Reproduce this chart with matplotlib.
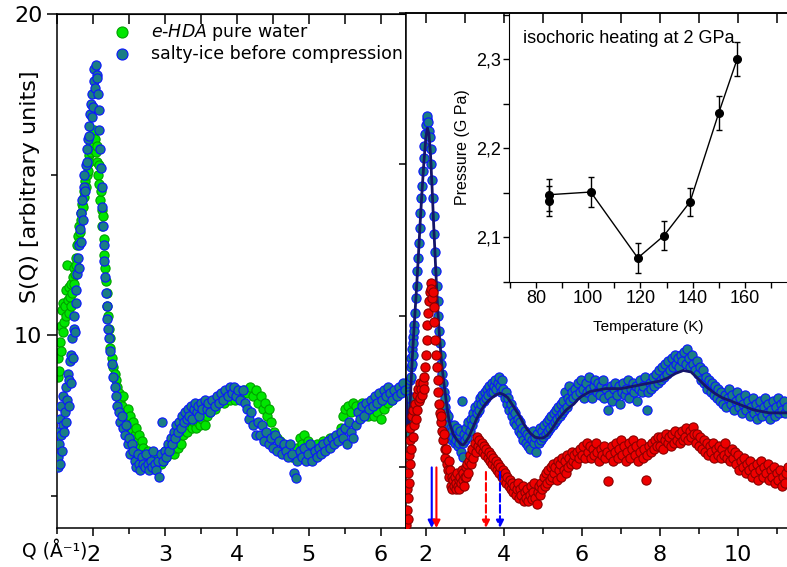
import numpy as np
import matplotlib.pyplot as plt
from matplotlib.ticker import MultipleLocator, NullFormatter, FuncFormatter

plt.rcParams['font.family'] = ['DejaVu Sans']

# ---- S(Q) data (left panel) ----
hda_water = [
    (1.51, 8.7), (1.52, 9.3), (1.53, 8.9), (1.54, 9.8), (1.55, 10.3), (1.56, 9.5), (1.57, 10.8), (1.58, 10.1), (1.59, 11.0), (1.60, 10.4),
    (1.61, 10.9), (1.62, 11.4), (1.63, 10.6), (1.64, 12.2), (1.65, 11.1), (1.66, 10.7), (1.67, 11.5), (1.68, 11.2), (1.69, 10.9), (1.70, 11.6),
    (1.71, 11.3), (1.72, 11.8), (1.73, 11.6), (1.74, 12.1), (1.75, 11.9), (1.76, 12.4), (1.77, 12.2), (1.78, 12.8), (1.79, 13.1), (1.80, 12.9),
    (1.81, 13.4), (1.82, 13.2), (1.83, 13.8), (1.84, 13.6), (1.85, 14.1), (1.86, 14.0), (1.87, 14.5), (1.88, 14.3), (1.89, 14.8), (1.90, 14.6),
    (1.91, 15.0), (1.92, 15.3), (1.93, 15.1), (1.94, 15.6), (1.95, 15.4), (1.96, 15.9), (1.97, 15.7), (1.98, 16.1), (1.99, 15.8), (2.00, 16.3),
    (2.01, 16.0), (2.02, 16.4), (2.03, 16.1), (2.04, 15.7), (2.05, 15.9), (2.06, 15.4), (2.07, 15.0), (2.08, 15.3), (2.09, 14.7), (2.10, 14.2),
    (2.11, 14.5), (2.12, 13.9), (2.13, 13.4), (2.14, 13.7), (2.15, 13.0), (2.16, 12.5), (2.17, 12.1), (2.18, 11.7), (2.19, 11.3), (2.20, 10.9),
    (2.21, 10.6), (2.22, 10.2), (2.23, 9.9), (2.24, 9.6), (2.26, 9.3), (2.28, 9.0), (2.30, 8.8), (2.32, 8.6), (2.34, 8.4), (2.36, 8.2),
    (2.38, 8.0), (2.40, 7.8), (2.42, 8.1), (2.44, 7.6), (2.46, 7.4), (2.48, 7.7), (2.50, 7.2), (2.52, 7.5), (2.54, 7.0), (2.56, 7.3),
    (2.58, 6.9), (2.60, 7.1), (2.62, 6.7), (2.64, 6.9), (2.66, 6.5), (2.68, 6.7), (2.70, 6.5), (2.72, 6.3), (2.74, 6.2), (2.76, 6.4),
    (2.78, 6.1), (2.80, 6.0), (2.82, 6.2), (2.84, 5.9), (2.86, 6.1), (2.88, 5.9), (2.90, 6.0), (2.92, 6.2), (2.94, 6.0), (2.96, 6.3),
    (2.98, 6.1), (3.00, 6.4), (3.02, 6.2), (3.04, 6.5), (3.06, 6.3), (3.08, 6.4), (3.10, 6.6), (3.12, 6.3), (3.14, 6.5), (3.16, 6.7),
    (3.18, 6.5), (3.20, 6.8), (3.22, 6.6), (3.25, 6.9), (3.28, 7.1), (3.31, 7.0), (3.34, 7.2), (3.37, 7.1), (3.40, 7.3), (3.43, 7.1),
    (3.46, 7.3), (3.49, 7.2), (3.52, 7.4), (3.55, 7.2), (3.58, 7.5), (3.62, 7.6), (3.66, 7.8), (3.70, 7.7), (3.74, 7.9), (3.78, 8.0),
    (3.82, 7.9), (3.86, 8.1), (3.90, 8.0), (3.94, 8.2), (3.98, 8.0), (4.02, 8.2), (4.06, 8.1), (4.10, 8.3), (4.14, 8.2), (4.18, 8.4),
    (4.22, 8.1), (4.26, 8.3), (4.30, 7.9), (4.33, 8.1), (4.36, 7.7), (4.39, 7.9), (4.42, 7.5), (4.45, 7.7), (4.48, 7.3), (4.52, 7.0),
    (4.56, 6.8), (4.60, 6.7), (4.64, 6.5), (4.68, 6.4), (4.72, 6.3), (4.76, 6.2), (4.80, 6.3), (4.84, 6.5), (4.87, 6.8), (4.90, 6.6),
    (4.93, 6.9), (4.96, 6.4), (4.99, 6.7), (5.02, 6.5), (5.05, 6.3), (5.08, 6.4), (5.12, 6.6), (5.16, 6.5), (5.20, 6.7), (5.25, 6.6),
    (5.30, 6.8), (5.35, 6.7), (5.40, 6.9), (5.44, 7.1), (5.47, 7.5), (5.50, 7.7), (5.54, 7.8), (5.58, 7.6), (5.62, 7.9), (5.66, 7.8),
    (5.70, 7.6), (5.74, 7.9), (5.78, 7.7), (5.82, 7.5), (5.86, 7.6), (5.90, 7.5), (5.95, 7.6), (6.00, 7.4), (6.05, 7.7), (6.10, 7.9),
    (6.15, 8.0), (6.20, 8.1), (6.25, 8.2), (6.30, 8.3),
]

salty_left = [
    (1.51, 6.2), (1.52, 7.0), (1.52, 5.9), (1.53, 6.6), (1.54, 7.4), (1.54, 6.0), (1.55, 6.9), (1.56, 7.8), (1.57, 6.4), (1.58, 7.2),
    (1.59, 8.1), (1.60, 7.0), (1.61, 7.6), (1.62, 8.4), (1.63, 7.3), (1.64, 8.0), (1.65, 8.8), (1.66, 7.8), (1.67, 8.6), (1.68, 9.2),
    (1.69, 8.5), (1.70, 9.4), (1.71, 9.9), (1.72, 9.3), (1.73, 10.2), (1.74, 10.6), (1.75, 10.1), (1.76, 11.0), (1.77, 11.4), (1.78, 11.9),
    (1.79, 12.4), (1.80, 12.1), (1.81, 12.8), (1.82, 13.3), (1.83, 12.9), (1.84, 13.8), (1.85, 14.2), (1.86, 13.6), (1.87, 14.6), (1.88, 15.0),
    (1.89, 14.5), (1.90, 15.3), (1.91, 15.8), (1.92, 15.4), (1.93, 16.1), (1.94, 16.5), (1.95, 16.2), (1.96, 16.9), (1.97, 17.2), (1.98, 16.8),
    (1.99, 17.5), (2.00, 17.1), (2.01, 17.9), (2.02, 18.3), (2.03, 17.7), (2.04, 18.4), (2.05, 18.1), (2.06, 18.0), (2.07, 17.5), (2.08, 17.0),
    (2.09, 16.4), (2.10, 15.8), (2.11, 15.2), (2.12, 14.6), (2.13, 14.0), (2.14, 13.4), (2.15, 12.8), (2.16, 12.3), (2.17, 11.8), (2.18, 11.3),
    (2.19, 10.9), (2.20, 10.5), (2.21, 10.2), (2.22, 9.9), (2.24, 9.5), (2.26, 9.1), (2.28, 8.7), (2.30, 8.4), (2.32, 8.1), (2.34, 7.8),
    (2.36, 7.6), (2.38, 7.3), (2.40, 7.5), (2.42, 7.1), (2.44, 6.9), (2.46, 7.2), (2.48, 6.6), (2.50, 6.8), (2.52, 6.3), (2.54, 6.6),
    (2.56, 6.4), (2.58, 6.1), (2.60, 5.9), (2.62, 6.3), (2.64, 6.0), (2.66, 5.8), (2.68, 6.2), (2.70, 6.0), (2.72, 5.9), (2.74, 6.3),
    (2.76, 6.0), (2.78, 5.8), (2.80, 6.1), (2.82, 5.9), (2.84, 6.4), (2.86, 6.0), (2.88, 5.8), (2.90, 6.1), (2.92, 5.6), (2.94, 6.3),
    (2.96, 7.3), (2.98, 6.1), (3.00, 6.4), (3.02, 6.2), (3.04, 6.6), (3.06, 6.4), (3.08, 6.8), (3.10, 6.6), (3.12, 7.0), (3.14, 6.8),
    (3.16, 7.2), (3.18, 7.0), (3.20, 7.3), (3.22, 7.1), (3.24, 7.5), (3.26, 7.3), (3.28, 7.6), (3.30, 7.4), (3.32, 7.7), (3.34, 7.5),
    (3.36, 7.8), (3.38, 7.4), (3.40, 7.7), (3.42, 7.9), (3.44, 7.6), (3.46, 7.8), (3.48, 7.5), (3.50, 7.9), (3.52, 7.7), (3.55, 8.0),
    (3.58, 7.7), (3.60, 7.9), (3.63, 7.6), (3.66, 8.0), (3.69, 7.8), (3.72, 8.1), (3.75, 7.9), (3.78, 8.2), (3.81, 8.0), (3.84, 8.3),
    (3.87, 8.1), (3.90, 8.4), (3.93, 8.2), (3.96, 8.4), (3.99, 8.1), (4.02, 8.3), (4.05, 8.0), (4.08, 8.3), (4.11, 7.9), (4.14, 7.7),
    (4.17, 7.4), (4.20, 7.6), (4.23, 7.2), (4.26, 6.9), (4.29, 7.3), (4.32, 6.9), (4.35, 7.2), (4.38, 6.7), (4.41, 7.0), (4.44, 6.6),
    (4.47, 6.8), (4.50, 6.5), (4.53, 6.9), (4.56, 6.4), (4.59, 6.7), (4.62, 6.3), (4.65, 6.6), (4.68, 6.4), (4.71, 6.2), (4.74, 6.6),
    (4.77, 6.3), (4.80, 5.7), (4.82, 5.55), (4.84, 6.1), (4.87, 6.4), (4.90, 6.2), (4.93, 6.5), (4.96, 6.1), (4.99, 6.3), (5.02, 6.6),
    (5.05, 6.1), (5.08, 6.4), (5.11, 6.2), (5.14, 6.5), (5.17, 6.3), (5.20, 6.6), (5.23, 6.4), (5.26, 6.7), (5.29, 6.5), (5.32, 6.8),
    (5.35, 6.6), (5.38, 6.9), (5.41, 6.7), (5.44, 7.0), (5.47, 6.8), (5.50, 7.1), (5.53, 6.6), (5.56, 7.3), (5.59, 7.0), (5.62, 6.8),
    (5.65, 7.2), (5.68, 7.6), (5.71, 7.4), (5.74, 7.8), (5.77, 7.5), (5.80, 7.9), (5.83, 7.7), (5.86, 8.0), (5.89, 7.8), (5.92, 8.1),
    (5.95, 7.9), (5.98, 8.2), (6.01, 8.0), (6.04, 8.3), (6.07, 8.1), (6.10, 8.4), (6.13, 8.2), (6.16, 8.0), (6.19, 8.3), (6.22, 8.1),
    (6.25, 8.4), (6.28, 8.2), (6.31, 8.5), (6.34, 8.3),
]

# ---- right panel ----
salty_right = [
    (1.50, 7.6), (1.51, 7.2), (1.52, 7.8), (1.53, 6.9), (1.54, 7.4), (1.55, 6.4), (1.56, 7.0), (1.57, 6.1), (1.58, 6.6), (1.59, 7.3),
    (1.60, 7.9), (1.61, 8.3), (1.62, 8.0), (1.63, 8.6), (1.64, 8.4), (1.65, 8.9), (1.66, 8.7), (1.67, 9.3), (1.68, 9.1), (1.69, 9.7),
    (1.70, 9.5), (1.72, 10.1), (1.74, 10.6), (1.76, 11.0), (1.78, 11.5), (1.80, 11.9), (1.82, 12.4), (1.84, 12.9), (1.86, 13.4), (1.88, 13.9),
    (1.90, 14.3), (1.92, 14.8), (1.94, 15.2), (1.96, 15.6), (1.98, 16.0), (2.00, 16.3), (2.02, 16.5), (2.04, 16.6), (2.06, 16.4), (2.08, 16.1),
    (2.10, 15.9), (2.12, 15.5), (2.14, 15.0), (2.16, 14.5), (2.18, 13.9), (2.20, 13.3), (2.22, 12.7), (2.24, 12.1), (2.26, 11.5), (2.28, 11.0),
    (2.30, 10.5), (2.32, 10.0), (2.34, 9.5), (2.36, 9.1), (2.38, 8.7), (2.40, 8.4), (2.42, 8.1), (2.44, 7.8), (2.46, 7.5), (2.48, 7.3),
    (2.50, 7.0), (2.52, 6.8), (2.54, 6.6), (2.56, 6.7), (2.58, 6.3),
    (2.60, 6.4), (2.62, 6.0), (2.64, 6.3), (2.66, 5.9), (2.68, 6.2), (2.70, 6.0), (2.72, 6.4), (2.74, 5.8), (2.76, 6.1), (2.78, 5.9),
    (2.80, 6.3), (2.82, 5.7), (2.84, 6.0), (2.86, 5.8), (2.88, 6.2), (2.90, 5.5), (2.92, 7.2), (2.94, 5.35), (2.96, 5.8), (2.98, 6.1),
    (3.00, 5.9), (3.03, 6.3), (3.06, 6.0), (3.09, 6.5), (3.12, 6.2), (3.15, 6.6), (3.18, 6.4), (3.21, 6.8), (3.24, 6.6), (3.27, 7.0),
    (3.30, 6.8), (3.33, 7.1), (3.36, 6.9), (3.39, 7.3), (3.42, 7.1), (3.45, 7.4), (3.48, 7.2), (3.51, 7.5), (3.54, 7.3), (3.57, 7.6),
    (3.60, 7.4), (3.63, 7.7), (3.66, 7.5), (3.69, 7.8), (3.72, 7.5), (3.75, 7.7), (3.78, 7.9), (3.81, 7.6), (3.84, 7.8), (3.87, 8.0),
    (3.90, 7.7), (3.93, 7.5), (3.96, 7.9), (3.99, 7.6), (4.02, 7.3), (4.05, 7.5), (4.08, 7.1), (4.11, 7.3), (4.14, 6.9), (4.17, 7.1),
    (4.20, 6.7), (4.23, 6.9), (4.26, 6.5), (4.29, 6.8), (4.32, 6.4), (4.35, 6.6), (4.38, 6.2), (4.41, 6.5), (4.44, 6.1), (4.47, 6.3),
    (4.50, 5.9), (4.53, 6.2), (4.56, 5.8), (4.59, 6.1), (4.62, 5.7), (4.65, 6.0), (4.68, 5.6), (4.71, 5.9), (4.74, 6.2), (4.77, 5.8),
    (4.80, 6.0), (4.83, 5.5), (4.86, 6.1), (4.89, 5.8), (4.92, 6.3), (4.95, 5.9), (4.98, 6.2), (5.01, 6.0), (5.04, 6.4), (5.07, 6.1),
    (5.10, 6.5), (5.13, 6.2), (5.16, 6.6), (5.19, 6.3), (5.22, 6.7), (5.25, 6.4), (5.28, 6.8), (5.31, 6.5), (5.34, 6.9), (5.37, 6.6),
    (5.40, 7.0), (5.43, 6.7), (5.46, 7.1), (5.49, 6.8), (5.52, 7.2), (5.55, 6.9), (5.58, 7.5), (5.61, 7.0), (5.64, 7.3), (5.67, 7.7),
    (5.70, 7.2), (5.74, 7.5), (5.78, 7.3), (5.82, 7.6), (5.86, 7.4), (5.90, 7.8), (5.94, 7.5), (5.98, 7.9), (6.02, 7.6), (6.06, 7.3),
    (6.10, 7.8), (6.14, 7.5), (6.18, 8.0), (6.22, 7.6), (6.26, 7.3), (6.30, 7.7), (6.34, 7.9), (6.38, 7.5), (6.42, 7.8), (6.46, 7.4),
    (6.50, 7.7), (6.54, 7.9), (6.58, 7.3), (6.62, 7.6), (6.66, 6.9), (6.70, 7.4), (6.74, 7.7), (6.78, 7.2), (6.82, 7.6), (6.86, 7.8),
    (6.90, 7.4), (6.94, 7.7), (6.98, 7.1), (7.02, 7.5), (7.06, 7.8), (7.10, 7.4), (7.14, 7.6), (7.18, 7.9), (7.22, 7.3), (7.26, 7.6),
    (7.30, 7.8), (7.34, 7.5), (7.38, 7.7), (7.42, 7.2), (7.46, 7.6), (7.50, 7.9), (7.54, 7.5), (7.58, 7.7), (7.62, 8.0), (7.66, 6.9),
    (7.70, 7.5), (7.74, 7.8), (7.78, 7.6), (7.82, 8.0), (7.86, 7.7), (7.90, 8.1), (7.94, 7.8), (7.98, 8.2), (8.02, 7.9), (8.06, 8.3),
    (8.10, 8.0), (8.14, 8.4), (8.18, 8.1), (8.22, 8.5), (8.26, 8.2), (8.30, 8.6), (8.34, 8.3), (8.38, 8.7), (8.42, 8.4), (8.46, 8.6),
    (8.50, 8.3), (8.54, 8.7), (8.58, 8.5), (8.62, 8.8), (8.66, 8.4), (8.70, 8.9), (8.74, 8.6), (8.78, 8.3), (8.82, 8.7), (8.86, 8.4),
    (8.90, 8.2), (8.94, 8.5), (8.98, 8.1), (9.02, 8.3), (9.06, 7.9), (9.10, 8.2), (9.14, 7.8), (9.18, 8.0), (9.22, 7.6), (9.26, 7.9),
    (9.30, 7.5), (9.34, 7.8), (9.38, 7.4), (9.42, 7.7), (9.46, 7.3), (9.50, 7.6), (9.54, 7.2), (9.58, 7.5), (9.62, 7.1), (9.66, 7.4),
    (9.70, 7.0), (9.74, 7.3), (9.78, 7.6), (9.82, 7.1), (9.86, 7.4), (9.90, 6.9), (9.94, 7.2), (9.98, 7.5), (10.02, 7.0), (10.06, 7.3),
    (10.10, 6.8), (10.14, 7.1), (10.18, 7.4), (10.22, 6.9), (10.26, 7.2), (10.30, 6.7), (10.34, 7.0), (10.38, 7.3), (10.42, 6.8), (10.46, 7.1),
    (10.50, 6.6), (10.54, 6.9), (10.58, 7.2), (10.62, 6.7), (10.66, 7.0), (10.70, 7.3), (10.74, 6.8), (10.78, 7.1), (10.82, 6.6), (10.86, 6.9),
    (10.90, 7.2), (10.94, 6.7), (10.98, 7.0), (11.02, 7.3), (11.06, 6.8), (11.10, 7.1), (11.14, 6.9), (11.18, 7.2), (11.22, 6.8), (11.26, 7.0),
]

salty_fit = [
    (1.50, 7.3), (1.54, 6.2), (1.58, 6.6), (1.62, 7.8), (1.66, 8.8), (1.70, 9.7), (1.75, 10.7), (1.80, 11.8), (1.85, 13.0), (1.90, 14.1),
    (1.95, 15.1), (2.00, 15.9), (2.04, 16.2), (2.08, 16.0), (2.12, 15.3), (2.16, 14.2), (2.20, 13.0), (2.25, 11.6), (2.30, 10.3), (2.35, 9.3),
    (2.40, 8.5), (2.45, 7.9), (2.50, 7.4), (2.55, 6.9), (2.60, 6.5), (2.70, 6.1), (2.80, 5.9), (2.90, 5.76), (2.95, 5.74), (3.00, 5.8),
    (3.10, 6.0), (3.20, 6.3), (3.30, 6.6), (3.40, 6.85), (3.50, 7.05), (3.60, 7.2), (3.70, 7.3), (3.80, 7.4), (3.90, 7.45), (4.00, 7.4),
    (4.10, 7.3), (4.20, 7.1), (4.30, 6.9), (4.40, 6.7), (4.50, 6.45), (4.60, 6.25), (4.70, 6.1), (4.80, 6.0), (4.90, 5.97), (5.00, 5.97),
    (5.10, 6.05), (5.20, 6.2), (5.30, 6.4), (5.40, 6.6), (5.50, 6.75), (5.60, 6.9), (5.70, 7.0), (5.80, 7.1), (5.90, 7.25), (6.00, 7.35),
    (6.20, 7.5), (6.40, 7.55), (6.60, 7.6), (6.80, 7.6), (7.00, 7.6), (7.20, 7.65), (7.40, 7.7), (7.60, 7.75), (7.80, 7.8), (8.00, 7.85),
    (8.20, 7.95), (8.40, 8.1), (8.60, 8.2), (8.80, 8.15), (9.00, 7.9), (9.20, 7.65), (9.40, 7.45), (9.60, 7.3), (9.80, 7.2), (10.00, 7.1),
    (10.20, 7.0), (10.40, 6.9), (10.60, 6.85), (10.80, 6.8), (11.00, 6.8), (11.30, 6.8),
]

heated = [
    (1.50, 3.1), (1.51, 3.6), (1.52, 4.3), (1.53, 3.3), (1.54, 4.8), (1.55, 4.0), (1.56, 5.4), (1.57, 4.5), (1.58, 5.9), (1.59, 5.1),
    (1.60, 6.3), (1.62, 5.6), (1.64, 6.7), (1.66, 6.0), (1.68, 6.9), (1.70, 6.4), (1.72, 7.1), (1.74, 6.6), (1.76, 7.4), (1.78, 6.9),
    (1.80, 7.6), (1.82, 7.2), (1.84, 7.8), (1.86, 7.3), (1.88, 7.6), (1.90, 7.4), (1.92, 7.8), (1.94, 7.6), (1.96, 8.0), (1.98, 8.3),
    (2.00, 8.7), (2.02, 9.2), (2.04, 9.7), (2.06, 10.1), (2.08, 10.5), (2.10, 10.8), (2.12, 11.1), (2.14, 10.9), (2.16, 10.6), (2.18, 10.8),
    (2.20, 10.3), (2.22, 9.8), (2.24, 9.2), (2.26, 8.7), (2.28, 8.3), (2.30, 7.9), (2.32, 7.5), (2.34, 7.1), (2.36, 6.8), (2.38, 6.5),
    (2.40, 6.7), (2.42, 6.2), (2.44, 5.9), (2.46, 6.1), (2.48, 5.6), (2.50, 5.3), (2.52, 5.6), (2.54, 5.1), (2.56, 4.9), (2.58, 5.2),
    (2.60, 4.7), (2.62, 4.9), (2.64, 4.4), (2.66, 4.7), (2.68, 4.3), (2.70, 4.6), (2.72, 4.4), (2.74, 4.7), (2.76, 4.3), (2.78, 4.5),
    (2.80, 4.8), (2.82, 4.4), (2.84, 4.6), (2.86, 4.3), (2.88, 4.7), (2.90, 4.5), (2.92, 4.9), (2.94, 4.6), (2.96, 4.8), (2.98, 4.4),
    (3.00, 4.7), (3.02, 5.0), (3.04, 4.7), (3.06, 5.1), (3.08, 4.8), (3.10, 5.2), (3.13, 5.4), (3.16, 5.1), (3.19, 5.6), (3.22, 5.3),
    (3.25, 5.8), (3.28, 5.5), (3.31, 6.0), (3.34, 5.7), (3.37, 5.9), (3.40, 5.6), (3.43, 5.8), (3.46, 5.5), (3.49, 5.7), (3.52, 5.4),
    (3.55, 5.6), (3.58, 5.3), (3.61, 5.5), (3.64, 5.2), (3.67, 5.4), (3.70, 5.1), (3.73, 5.3), (3.76, 5.0), (3.79, 5.2), (3.82, 4.9),
    (3.85, 5.1), (3.88, 4.8), (3.91, 5.0), (3.94, 4.7), (3.97, 4.9), (4.00, 4.6), (4.03, 4.8), (4.06, 4.5), (4.09, 4.7), (4.12, 4.4),
    (4.15, 4.6), (4.18, 4.3), (4.21, 4.5), (4.24, 4.2), (4.27, 4.4), (4.30, 4.1), (4.33, 4.3), (4.36, 4.5), (4.39, 4.0), (4.42, 4.3),
    (4.45, 4.1), (4.48, 4.4), (4.51, 3.9), (4.54, 4.2), (4.57, 4.0), (4.60, 4.3), (4.63, 3.9), (4.66, 4.1), (4.69, 4.4), (4.72, 3.95),
    (4.75, 4.2), (4.78, 4.5), (4.81, 4.0), (4.84, 3.8), (4.87, 4.2), (4.90, 4.4), (4.93, 4.1), (4.96, 4.5), (4.99, 4.3), (5.02, 4.7),
    (5.05, 4.4), (5.08, 4.8), (5.11, 4.5), (5.14, 4.9), (5.17, 4.6), (5.20, 5.0), (5.23, 4.7), (5.26, 5.1), (5.29, 4.8), (5.32, 5.0),
    (5.35, 4.6), (5.38, 5.2), (5.41, 4.9), (5.44, 5.1), (5.47, 4.7), (5.50, 5.3), (5.53, 4.9), (5.56, 5.2), (5.59, 4.8), (5.62, 5.4),
    (5.65, 5.0), (5.68, 5.3), (5.71, 5.1), (5.74, 5.5), (5.77, 5.2), (5.80, 5.4), (5.84, 5.1), (5.88, 5.5), (5.92, 5.3), (5.96, 5.6),
    (6.00, 5.4), (6.04, 5.7), (6.08, 5.3), (6.12, 5.8), (6.16, 5.5), (6.20, 5.7), (6.24, 5.3), (6.28, 5.6), (6.32, 5.4), (6.36, 5.8),
    (6.40, 5.5), (6.44, 5.2), (6.48, 5.6), (6.52, 5.4), (6.56, 5.7), (6.60, 5.3), (6.64, 5.5), (6.68, 4.55), (6.72, 5.4), (6.76, 5.7),
    (6.80, 5.2), (6.84, 5.5), (6.88, 5.8), (6.92, 5.3), (6.96, 5.6), (7.00, 5.9), (7.04, 5.4), (7.08, 5.7), (7.12, 5.2), (7.16, 5.5),
    (7.20, 5.8), (7.24, 5.3), (7.28, 5.6), (7.32, 5.9), (7.36, 5.4), (7.40, 5.7), (7.44, 5.2), (7.48, 5.5), (7.52, 5.8), (7.56, 5.3),
    (7.60, 5.6), (7.64, 4.6), (7.68, 5.4), (7.72, 5.7), (7.76, 5.5), (7.80, 5.8), (7.84, 5.6), (7.88, 5.9), (7.92, 5.7), (7.96, 6.0),
    (8.00, 5.7), (8.04, 6.0), (8.08, 5.6), (8.12, 5.9), (8.16, 6.1), (8.20, 5.8), (8.24, 6.0), (8.28, 5.7), (8.32, 6.1), (8.36, 5.8),
    (8.40, 6.2), (8.44, 5.9), (8.48, 6.1), (8.52, 5.8), (8.56, 6.2), (8.60, 5.9), (8.64, 6.0), (8.68, 6.3), (8.72, 5.9), (8.76, 6.2),
    (8.80, 6.0), (8.84, 6.35), (8.88, 6.1), (8.92, 5.8), (8.96, 6.1), (9.00, 5.7), (9.04, 6.0), (9.08, 5.6), (9.12, 5.9), (9.16, 5.5),
    (9.20, 5.8), (9.24, 5.4), (9.28, 5.7), (9.32, 5.5), (9.36, 5.8), (9.40, 5.3), (9.44, 5.6), (9.48, 5.4), (9.52, 5.7), (9.56, 5.3),
    (9.60, 5.6), (9.64, 5.4), (9.68, 5.8), (9.72, 5.3), (9.76, 5.5), (9.80, 5.2), (9.84, 5.6), (9.88, 5.3), (9.92, 5.5), (9.96, 5.1),
    (10.00, 5.4), (10.04, 4.9), (10.08, 5.2), (10.12, 5.0), (10.16, 5.3), (10.20, 4.8), (10.24, 5.1), (10.28, 4.9), (10.32, 5.2), (10.36, 4.7),
    (10.40, 5.0), (10.44, 4.8), (10.48, 5.1), (10.52, 4.6), (10.56, 4.9), (10.60, 5.2), (10.64, 4.7), (10.68, 5.0), (10.72, 4.8), (10.76, 5.1),
    (10.80, 4.6), (10.84, 4.9), (10.88, 4.7), (10.92, 5.0), (10.96, 4.5), (11.00, 4.8), (11.04, 4.6), (11.08, 4.9), (11.12, 4.4), (11.16, 4.7),
    (11.20, 4.5), (11.24, 4.8), (11.28, 5.0),
]

# arrows marking peak positions (Q, start height)
arrow_q = [2.15, 2.27, 3.54, 3.90]
arrow_top = [5.0, 5.0, 4.85, 4.85]
arrow_colors = ['#0000ff', '#ff0000', '#ff0000', '#0000ff']
arrow_styles = ['-', '-', '--', '--']

# ---- inset: isochoric heating ----
temp_k = [85, 85, 101, 119, 129, 139, 150, 157]
pressure = [2.141, 2.148, 2.151, 2.077, 2.102, 2.140, 2.240, 2.300]
pressure_err = [0.017, 0.018, 0.017, 0.017, 0.016, 0.016, 0.019, 0.019]

BLUE_FACE, BLUE_EDGE = '#1a7d84', '#0a14ff'
GREEN_FACE, GREEN_EDGE = '#00e600', '#00a000'
RED_FACE, RED_EDGE = '#ee0000', '#8a0000'
MS = 44

W, H = 787, 567
fig = plt.figure(figsize=(W / 100, H / 100), dpi=100)

ax1 = fig.add_axes([57 / W, 1 - 528 / H, (406 - 57) / W, (528 - 14) / H])
ax2 = fig.add_axes([406 / W, 1 - 528 / H, (787 - 406) / W, (528 - 13) / H])
ins = fig.add_axes([509 / W, 1 - 282 / H, (787 - 509) / W, (282 - 13) / H])

# left panel
q, s = np.array(hda_water).T
h1 = ax1.scatter(q, s, s=MS, c=GREEN_FACE, edgecolors=GREEN_EDGE, linewidths=0.8, zorder=2)
q, s = np.array(salty_left).T
h2 = ax1.scatter(q, s, s=MS, c=BLUE_FACE, edgecolors=BLUE_EDGE, linewidths=0.8, zorder=3)
ax1.set_xlim(1.5, 6.35)
ax1.set_ylim(4, 20)
ax1.xaxis.set_major_locator(MultipleLocator(1))
ax1.xaxis.set_minor_locator(MultipleLocator(0.5))
ax1.yaxis.set_major_locator(MultipleLocator(10))
ax1.yaxis.set_minor_locator(MultipleLocator(5))
ax1.tick_params(which='major', direction='out', length=7.5, width=1.1, labelsize=16, pad=3)
ax1.tick_params(which='minor', direction='out', length=4.5, width=1.1)
ax1.tick_params(axis='x', which='major', pad=6, length=6)
sec1 = ax1.secondary_xaxis('top')
sec1.xaxis.set_major_locator(MultipleLocator(1))
sec1.xaxis.set_minor_locator(MultipleLocator(0.5))
sec1.xaxis.set_major_formatter(NullFormatter())
sec1.tick_params(which='both', direction='in', length=7, width=1.1)

ax1.legend([h1, h2], [r'$\mathit{e}$-$\mathit{HDA}$ pure water', 'salty-ice before compression'],
           loc='upper left', bbox_to_anchor=(0.165, 0.985), frameon=False, fontsize=12.5,
           handlelength=0.8, handletextpad=1.3, borderpad=0, borderaxespad=0,
           labelspacing=0.12, scatterpoints=1, markerscale=1.2)

# right panel
q, s = np.array(salty_right).T
ax2.scatter(q, s, s=MS, c=BLUE_FACE, edgecolors=BLUE_EDGE, linewidths=0.8, zorder=2)
q, s = np.array(salty_fit).T
ax2.plot(q, s, color='#15156a', lw=2.0, zorder=3)
q, s = np.array(heated).T
ax2.scatter(q, s, s=MS, c=RED_FACE, edgecolors=RED_EDGE, linewidths=0.8, zorder=4)
for xq, top, col, ls in zip(arrow_q, arrow_top, arrow_colors, arrow_styles):
    ax2.annotate('', xy=(xq, 3.0), xytext=(xq, top),
                 arrowprops=dict(arrowstyle='-|>', color=col, lw=1.5, linestyle=ls,
                                 mutation_scale=11, shrinkA=0, shrinkB=0), zorder=5)
ax2.set_xlim(1.49, 11.26)
ax2.set_ylim(3, 20)
ax2.spines['right'].set_visible(False)
ax2.xaxis.set_major_locator(MultipleLocator(2))
ax2.xaxis.set_minor_locator(MultipleLocator(1))
ax2.yaxis.set_major_locator(MultipleLocator(5))
ax2.yaxis.set_minor_locator(MultipleLocator(5))
ax2.tick_params(which='major', direction='out', length=6, width=1.1, labelsize=16, pad=6)
ax2.tick_params(which='minor', direction='out', length=4, width=1.1)
ax2.tick_params(axis='y', labelleft=False, length=5)
sec2 = ax2.secondary_xaxis('top')
sec2.xaxis.set_major_locator(MultipleLocator(2))
sec2.xaxis.set_minor_locator(MultipleLocator(1))
sec2.xaxis.set_major_formatter(NullFormatter())
sec2.tick_params(which='both', direction='in', length=7, width=1.1)
sec2.spines['top'].set_linewidth(1.1)

for ax in (ax1, ax2):
    for sp in ax.spines.values():
        sp.set_linewidth(1.1)

fig.text(22 / W, 1 - 551 / H, 'Q (Å⁻¹)', fontsize=13.5, ha='left', va='center')
fig.text(30 / W, 1 - 187 / H, 'S(Q) [arbitrary units]', fontsize=16, rotation=90,
         ha='center', va='center')

# inset
narrow = ['Liberation Sans Narrow', 'Liberation Sans']
ins.patch.set_alpha(0)
ins.errorbar(temp_k, pressure, yerr=pressure_err, fmt='o-', color='black', ms=5.5,
             lw=1.0, elinewidth=1.0, capsize=2, capthick=1.0)
ins.set_xlim(69.7, 176.1)
ins.set_ylim(2.05, 2.352)
ins.spines['top'].set_visible(False)
ins.spines['right'].set_visible(False)
ins.xaxis.set_major_locator(MultipleLocator(20))
ins.xaxis.set_minor_locator(MultipleLocator(10))
ins.yaxis.set_major_locator(MultipleLocator(0.1))
ins.yaxis.set_minor_locator(MultipleLocator(0.05))
ins.yaxis.set_major_formatter(FuncFormatter(lambda v, p: f'{v:.1f}'.replace('.', ',')))
ins.tick_params(which='both', direction='out', length=4, width=1.0, pad=2)
for lab in ins.get_xticklabels() + ins.get_yticklabels():
    lab.set_fontfamily(narrow)
    lab.set_fontsize(13)
ins.set_xlabel('Temperature (K)', family=narrow, fontsize=11, labelpad=9)
ins.set_ylabel('Pressure (G Pa)', family=narrow, fontsize=11.5, labelpad=4)
ins.text(0.05, 0.905, 'isochoric heating at 2 GPa', transform=ins.transAxes,
         family=narrow, fontsize=13, ha='left', va='center')

fig.savefig('out.png', dpi=100)
